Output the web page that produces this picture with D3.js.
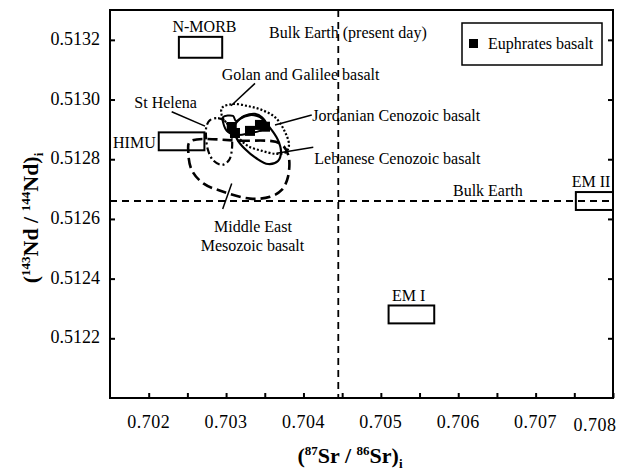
<!DOCTYPE html>
<html>
<head>
<meta charset="utf-8">
<script src="https://cdn.jsdelivr.net/npm/d3@7"></script>
</head>
<body style="margin:0;padding:0;background:#fff">
<svg id="chart" width="631" height="474" style="display:block"></svg>
<script>
// ---------- Data ----------
const xDomain = [0.7015, 0.7080];
const yDomain = [0.5120, 0.5133];
const xMinorTicks = [0.7020, 0.7025, 0.7030, 0.7035, 0.7040, 0.7045, 0.7050, 0.7055, 0.7060, 0.7065, 0.7070, 0.7075, 0.7080];
const xLabelValues = [0.702, 0.703, 0.704, 0.705, 0.706, 0.707, 0.708];
const xTickLabels = ["0.702", "0.703", "0.704", "0.705", "0.706", "0.707", "0.708"];
const yTickValues = [0.5122, 0.5124, 0.5126, 0.5128, 0.5130, 0.5132];
const yTickLabels = ["0.5122", "0.5124", "0.5126", "0.5128", "0.5130", "0.5132"];

// Euphrates basalt samples (87Sr/86Sr, 143Nd/144Nd)
const euphratesSr = [0.703073, 0.703115, 0.703309, 0.703438, 0.703503];
const euphratesNd = [0.512908, 0.512888, 0.512895, 0.512915, 0.512909];

// Reference reservoirs (boxes)
const boxNames = ["N-MORB", "HIMU", "EM I", "EM II"];
const boxSr = [[0.70239, 0.70295], [0.70213, 0.70272], [0.70510, 0.70569], [0.70752, 0.70800]];
const boxNd = [[0.51314, 0.51321], [0.51283, 0.51289], [0.51225, 0.51231], [0.51263, 0.51269]];

// Bulk Earth (present day)
const bulkEarthSr = 0.70445;
const bulkEarthNd = 0.51266;

// Fields (closed outlines)
const middleEastSr = [0.702534, 0.703180, 0.703697, 0.703804, 0.703800, 0.703719, 0.703568, 0.703309, 0.702964, 0.702706, 0.702556, 0.702512];
const middleEastNd = [0.512859, 0.512862, 0.512853, 0.512814, 0.512741, 0.512697, 0.512674, 0.512668, 0.512691, 0.512719, 0.512764, 0.512824];

const stHelenaSr = [0.702792, 0.702896, 0.702999, 0.703064, 0.703077, 0.703038, 0.702947, 0.702831, 0.702766, 0.702741, 0.702747];
const stHelenaNd = [0.512931, 0.512938, 0.512925, 0.512888, 0.512838, 0.512797, 0.512781, 0.512797, 0.512831, 0.512874, 0.512911];

const golanSr = [0.702947, 0.703090, 0.703283, 0.703464, 0.703632, 0.703749, 0.703813, 0.703774, 0.703645, 0.703464, 0.703283, 0.703154, 0.703038, 0.702947];
const golanNd = [0.512972, 0.512985, 0.512978, 0.512965, 0.512941, 0.512898, 0.512848, 0.512824, 0.512818, 0.512828, 0.512844, 0.512874, 0.512911, 0.512945];

const lebaneseSr = [0.703102, 0.703180, 0.703309, 0.703438, 0.703568, 0.703671, 0.703710, 0.703671, 0.703542, 0.703387, 0.703245, 0.703141];
const lebaneseNd = [0.512905, 0.512935, 0.512948, 0.512941, 0.512905, 0.512864, 0.512824, 0.512794, 0.512784, 0.512804, 0.512834, 0.512868];

const jordanianSr = [0.702960, 0.702960, 0.703090, 0.703128, 0.703232, 0.703374, 0.703464, 0.703516, 0.703464, 0.703309, 0.703154, 0.703025];
const jordanianNd = [0.512925, 0.512941, 0.512945, 0.512928, 0.512945, 0.512952, 0.512941, 0.512918, 0.512898, 0.512888, 0.512881, 0.512891];

// ---------- Layout ----------
const FONT = "Liberation Serif";
const W = 631, H = 474;
const margin = { left: 110, right: 18, top: 10, bottom: 76 };
const svg = d3.select("#chart");
const x = d3.scaleLinear().domain(xDomain).range([margin.left, W - margin.right]);
const y = d3.scaleLinear().domain(yDomain).range([H - margin.bottom, margin.top]);

const zip = (a, b) => a.map((v, i) => [v, b[i]]);
const closedLine = d3.line().x(d => x(d[0])).y(d => y(d[1])).curve(d3.curveCatmullRomClosed.alpha(0.5));
const txt = (sel) => sel.attr("font-family", FONT).style("font-family", '"Liberation Serif"').attr("fill", "#000");

// Bulk Earth lines
svg.append("line")
  .attr("x1", x(bulkEarthSr)).attr("x2", x(bulkEarthSr))
  .attr("y1", y(yDomain[1])).attr("y2", y(yDomain[0]))
  .attr("stroke", "#000").attr("stroke-width", 1.8).attr("stroke-dasharray", "7,5");
svg.append("line")
  .attr("x1", x(xDomain[0])).attr("x2", x(xDomain[1]))
  .attr("y1", y(bulkEarthNd)).attr("y2", y(bulkEarthNd))
  .attr("stroke", "#000").attr("stroke-width", 1.8).attr("stroke-dasharray", "7,5");

// Boxes
boxNames.forEach((n, i) => {
  svg.append("rect")
    .attr("x", x(boxSr[i][0])).attr("y", y(boxNd[i][1]))
    .attr("width", x(boxSr[i][1]) - x(boxSr[i][0]))
    .attr("height", y(boxNd[i][0]) - y(boxNd[i][1]))
    .attr("fill", "none").attr("stroke", "#000").attr("stroke-width", 2);
});

// Fields
const fields = [
  { sr: middleEastSr, nd: middleEastNd, dash: "10,5", w: 2.6 },
  { sr: stHelenaSr, nd: stHelenaNd, dash: "7,3,2,3", w: 2.2 },
  { sr: golanSr, nd: golanNd, dash: "2,2", w: 2.2 },
  { sr: lebaneseSr, nd: lebaneseNd, dash: null, w: 2.2 },
  { sr: jordanianSr, nd: jordanianNd, dash: null, w: 2.0 }
];
fields.forEach(f => {
  svg.append("path")
    .attr("d", closedLine(zip(f.sr, f.nd)))
    .attr("fill", "none").attr("stroke", "#000")
    .attr("stroke-width", f.w)
    .attr("stroke-dasharray", f.dash);
});

// Euphrates basalt squares
const sq = 10;
svg.selectAll("rect.euph").data(zip(euphratesSr, euphratesNd)).enter()
  .append("rect").attr("class", "euph")
  .attr("x", d => x(d[0]) - sq / 2).attr("y", d => y(d[1]) - sq / 2)
  .attr("width", sq).attr("height", sq).attr("fill", "#000");

// Leader lines
const leaders = [
  [[0.703374, 0.513054], [0.703064, 0.512979]],
  [[0.702297, 0.512959], [0.702728, 0.512911]],
  [[0.704107, 0.512948], [0.703632, 0.512915]],
  [[0.704127, 0.512840], [0.703654, 0.512820]],
  [[0.703073, 0.512719], [0.702956, 0.512633]]
];
leaders.forEach(l => {
  svg.append("line")
    .attr("x1", x(l[0][0])).attr("y1", y(l[0][1]))
    .attr("x2", x(l[1][0])).attr("y2", y(l[1][1]))
    .attr("stroke", "#000").attr("stroke-width", 1.5);
});

// Annotation labels
const labels = [
  { t: "N-MORB", sr: 0.702721, nd: 0.513226, a: "middle" },
  { t: "Bulk Earth (present day)", sr: 0.703555, nd: 0.513206, a: "start" },
  { t: "Golan and Galilee basalt", sr: 0.702943, nd: 0.513067, a: "start" },
  { t: "St Helena", sr: 0.701814, nd: 0.512971, a: "start" },
  { t: "HIMU", sr: 0.702091, nd: 0.512839, a: "end" },
  { t: "Jordanian Cenozoic basalt", sr: 0.704114, nd: 0.512929, a: "start" },
  { t: "Lebanese Cenozoic basalt", sr: 0.704140, nd: 0.512784, a: "start" },
  { t: "Bulk Earth", sr: 0.705932, nd: 0.512677, a: "start" },
  { t: "Middle East", sr: 0.703348, nd: 0.512555, a: "middle" },
  { t: "Mesozoic basalt", sr: 0.703341, nd: 0.512494, a: "middle" },
  { t: "EM I", sr: 0.705360, nd: 0.512326, a: "middle" },
  { t: "EM II", sr: 0.707716, nd: 0.512708, a: "middle" }
];
labels.forEach(l => {
  svg.append("text").attr("x", x(l.sr)).attr("y", y(l.nd))
    .attr("text-anchor", l.a).attr("font-size", 16).call(txt).text(l.t);
});

// Legend
const lg = svg.append("g");
lg.append("rect").attr("x", 462).attr("y", 23).attr("width", 140).attr("height", 42)
  .attr("fill", "#fff").attr("stroke", "#000").attr("stroke-width", 1.5);
lg.append("rect").attr("x", 469).attr("y", 39).attr("width", 9).attr("height", 9).attr("fill", "#000");
lg.append("text").attr("x", 488).attr("y", 49).attr("font-size", 16).call(txt).text("Euphrates basalt");

// Axes (inward ticks)
const axB = d3.axisBottom(x).tickValues(xMinorTicks).tickSizeInner(-5).tickSizeOuter(0).tickFormat("");
svg.append("g").attr("transform", `translate(0,${H - margin.bottom})`).call(axB)
  .call(g => g.select(".domain").remove())
  .call(g => g.selectAll(".tick line").attr("stroke-width", 2));

const axL = d3.axisLeft(y).tickValues(yTickValues).tickSizeInner(-5).tickSizeOuter(0).tickPadding(10)
  .tickFormat((d, i) => yTickLabels[i]);
svg.append("g").attr("transform", `translate(${margin.left},0)`).call(axL)
  .attr("font-family", FONT).attr("font-size", 18)
  .call(g => g.select(".domain").remove())
  .call(g => g.selectAll(".tick line").attr("stroke-width", 2))
  .call(g => g.selectAll(".tick text").attr("font-size", 18).attr("dy", "0.25em").call(txt));

const axR = d3.axisRight(y).tickValues(yTickValues).tickSizeInner(-5).tickSizeOuter(0).tickFormat("");
svg.append("g").attr("transform", `translate(${W - margin.right},0)`).call(axR)
  .call(g => g.select(".domain").remove())
  .call(g => g.selectAll(".tick line").attr("stroke-width", 2));

// X tick labels
svg.selectAll("text.xl").data(xLabelValues).enter().append("text").attr("class", "xl")
  .attr("x", (d, i) => x(d) - (i === xLabelValues.length - 1 ? 18 : 0))
  .attr("y", (d, i) => 428 + (i === xLabelValues.length - 1 ? 3 : 0))
  .attr("text-anchor", "middle").attr("font-size", 18)
  .attr("letter-spacing", 0.5).call(txt)
  .text((d, i) => xTickLabels[i]);

// Frame
svg.append("rect").attr("x", margin.left).attr("y", margin.top)
  .attr("width", W - margin.left - margin.right).attr("height", H - margin.top - margin.bottom)
  .attr("fill", "none").attr("stroke", "#000").attr("stroke-width", 2);

// Axis titles
const xt = svg.append("text").attr("x", 350).attr("y", 463).attr("text-anchor", "middle")
  .attr("font-size", 22).attr("font-weight", "bold").call(txt);
xt.append("tspan").text("(");
xt.append("tspan").attr("font-size", 13).attr("dy", -8).text("87");
xt.append("tspan").attr("dy", 8).text("Sr / ");
xt.append("tspan").attr("font-size", 13).attr("dy", -8).text("86");
xt.append("tspan").attr("dy", 8).text("Sr)");
xt.append("tspan").attr("font-size", 13).attr("dy", 5).text("i");

const yt = svg.append("text").attr("transform", "translate(38,218) rotate(-90)")
  .attr("text-anchor", "middle").attr("font-size", 22).attr("font-weight", "bold").call(txt);
yt.append("tspan").text("(");
yt.append("tspan").attr("font-size", 13).attr("dy", -8).text("143");
yt.append("tspan").attr("dy", 8).text("Nd / ");
yt.append("tspan").attr("font-size", 13).attr("dy", -8).text("144");
yt.append("tspan").attr("dy", 8).text("Nd)");
yt.append("tspan").attr("font-size", 13).attr("dy", 5).text("i");
</script>
</body>
</html>
